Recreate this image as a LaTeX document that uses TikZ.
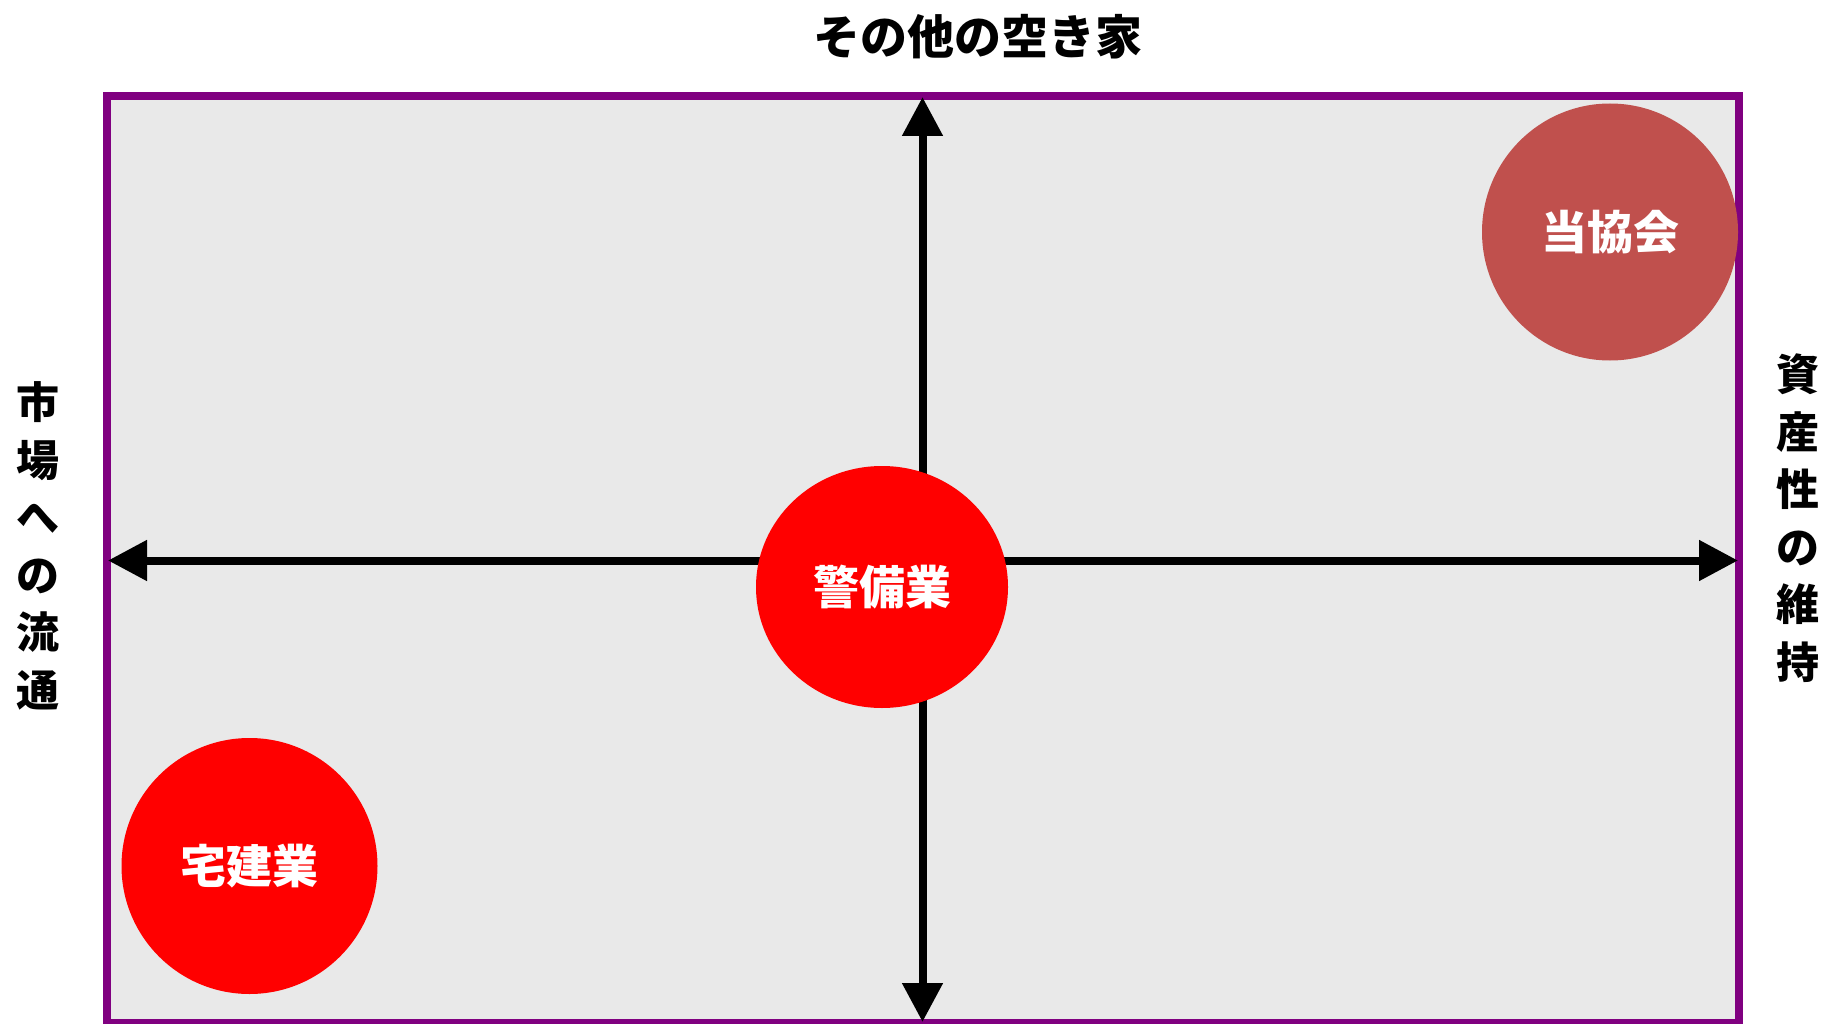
\documentclass[tikz,border=0pt]{standalone}
\usepackage{fontspec}
\setmainfont{Noto Sans CJK JP}
\usetikzlibrary{arrows.meta}
\definecolor{framepurple}{HTML}{800080}
\definecolor{panelgrey}{HTML}{E9E9E9}
\definecolor{assocred}{HTML}{C0504D}
\definecolor{brightred}{HTML}{FF0000}
\tikzset{
  axisline/.style={line width=8pt, black, {Triangle[width=39pt,length=39pt]}-{Triangle[width=39pt,length=39pt]}},
  blob/.style={ellipse, inner sep=0pt, text=white, font=\bfseries\fontsize{46}{46}\selectfont},
  vlabel/.style={align=center, font=\bfseries\fontsize{43}{57.5}\selectfont},
}
\usetikzlibrary{shapes.geometric}
\begin{document}
\begin{tikzpicture}[x=1pt,y=-1pt]
\useasboundingbox (0,0) rectangle (1826,1024);
\fill[white] (0,0) rectangle (1826,1024);
% frame
\draw[framepurple, line width=8pt, fill=panelgrey] (107,96.5) rectangle (1739,1023);
% axes
\coordinate (top) at (922.5,97);
\coordinate (bottom) at (922.5,1022);
\coordinate (left) at (108,560.5);
\coordinate (right) at (1738,560.5);
\draw[axisline] (bottom) -- (top);
\draw[axisline] (left) -- (right);
% circles
\node[blob, fill=assocred, minimum width=256pt, minimum height=257pt] (assoc) at (1610,232) {当協会};
\node[blob, fill=brightred, minimum width=252pt, minimum height=242pt] (guard) at (882,587) {警備業};
\node[blob, fill=brightred, minimum width=256pt, minimum height=256pt] (realty) at (249.5,866) {宅建業};
% labels
\node[font=\bfseries\fontsize{47}{47}\selectfont] (toplabel) at (978,36.5) {その他の空き家};
\node[vlabel] (leftlabel) at (38,546) {市\\場\\へ\\の\\流\\通};
\node[vlabel] (rightlabel) at (1798,518) {資\\産\\性\\の\\維\\持};
\end{tikzpicture}
\end{document}
